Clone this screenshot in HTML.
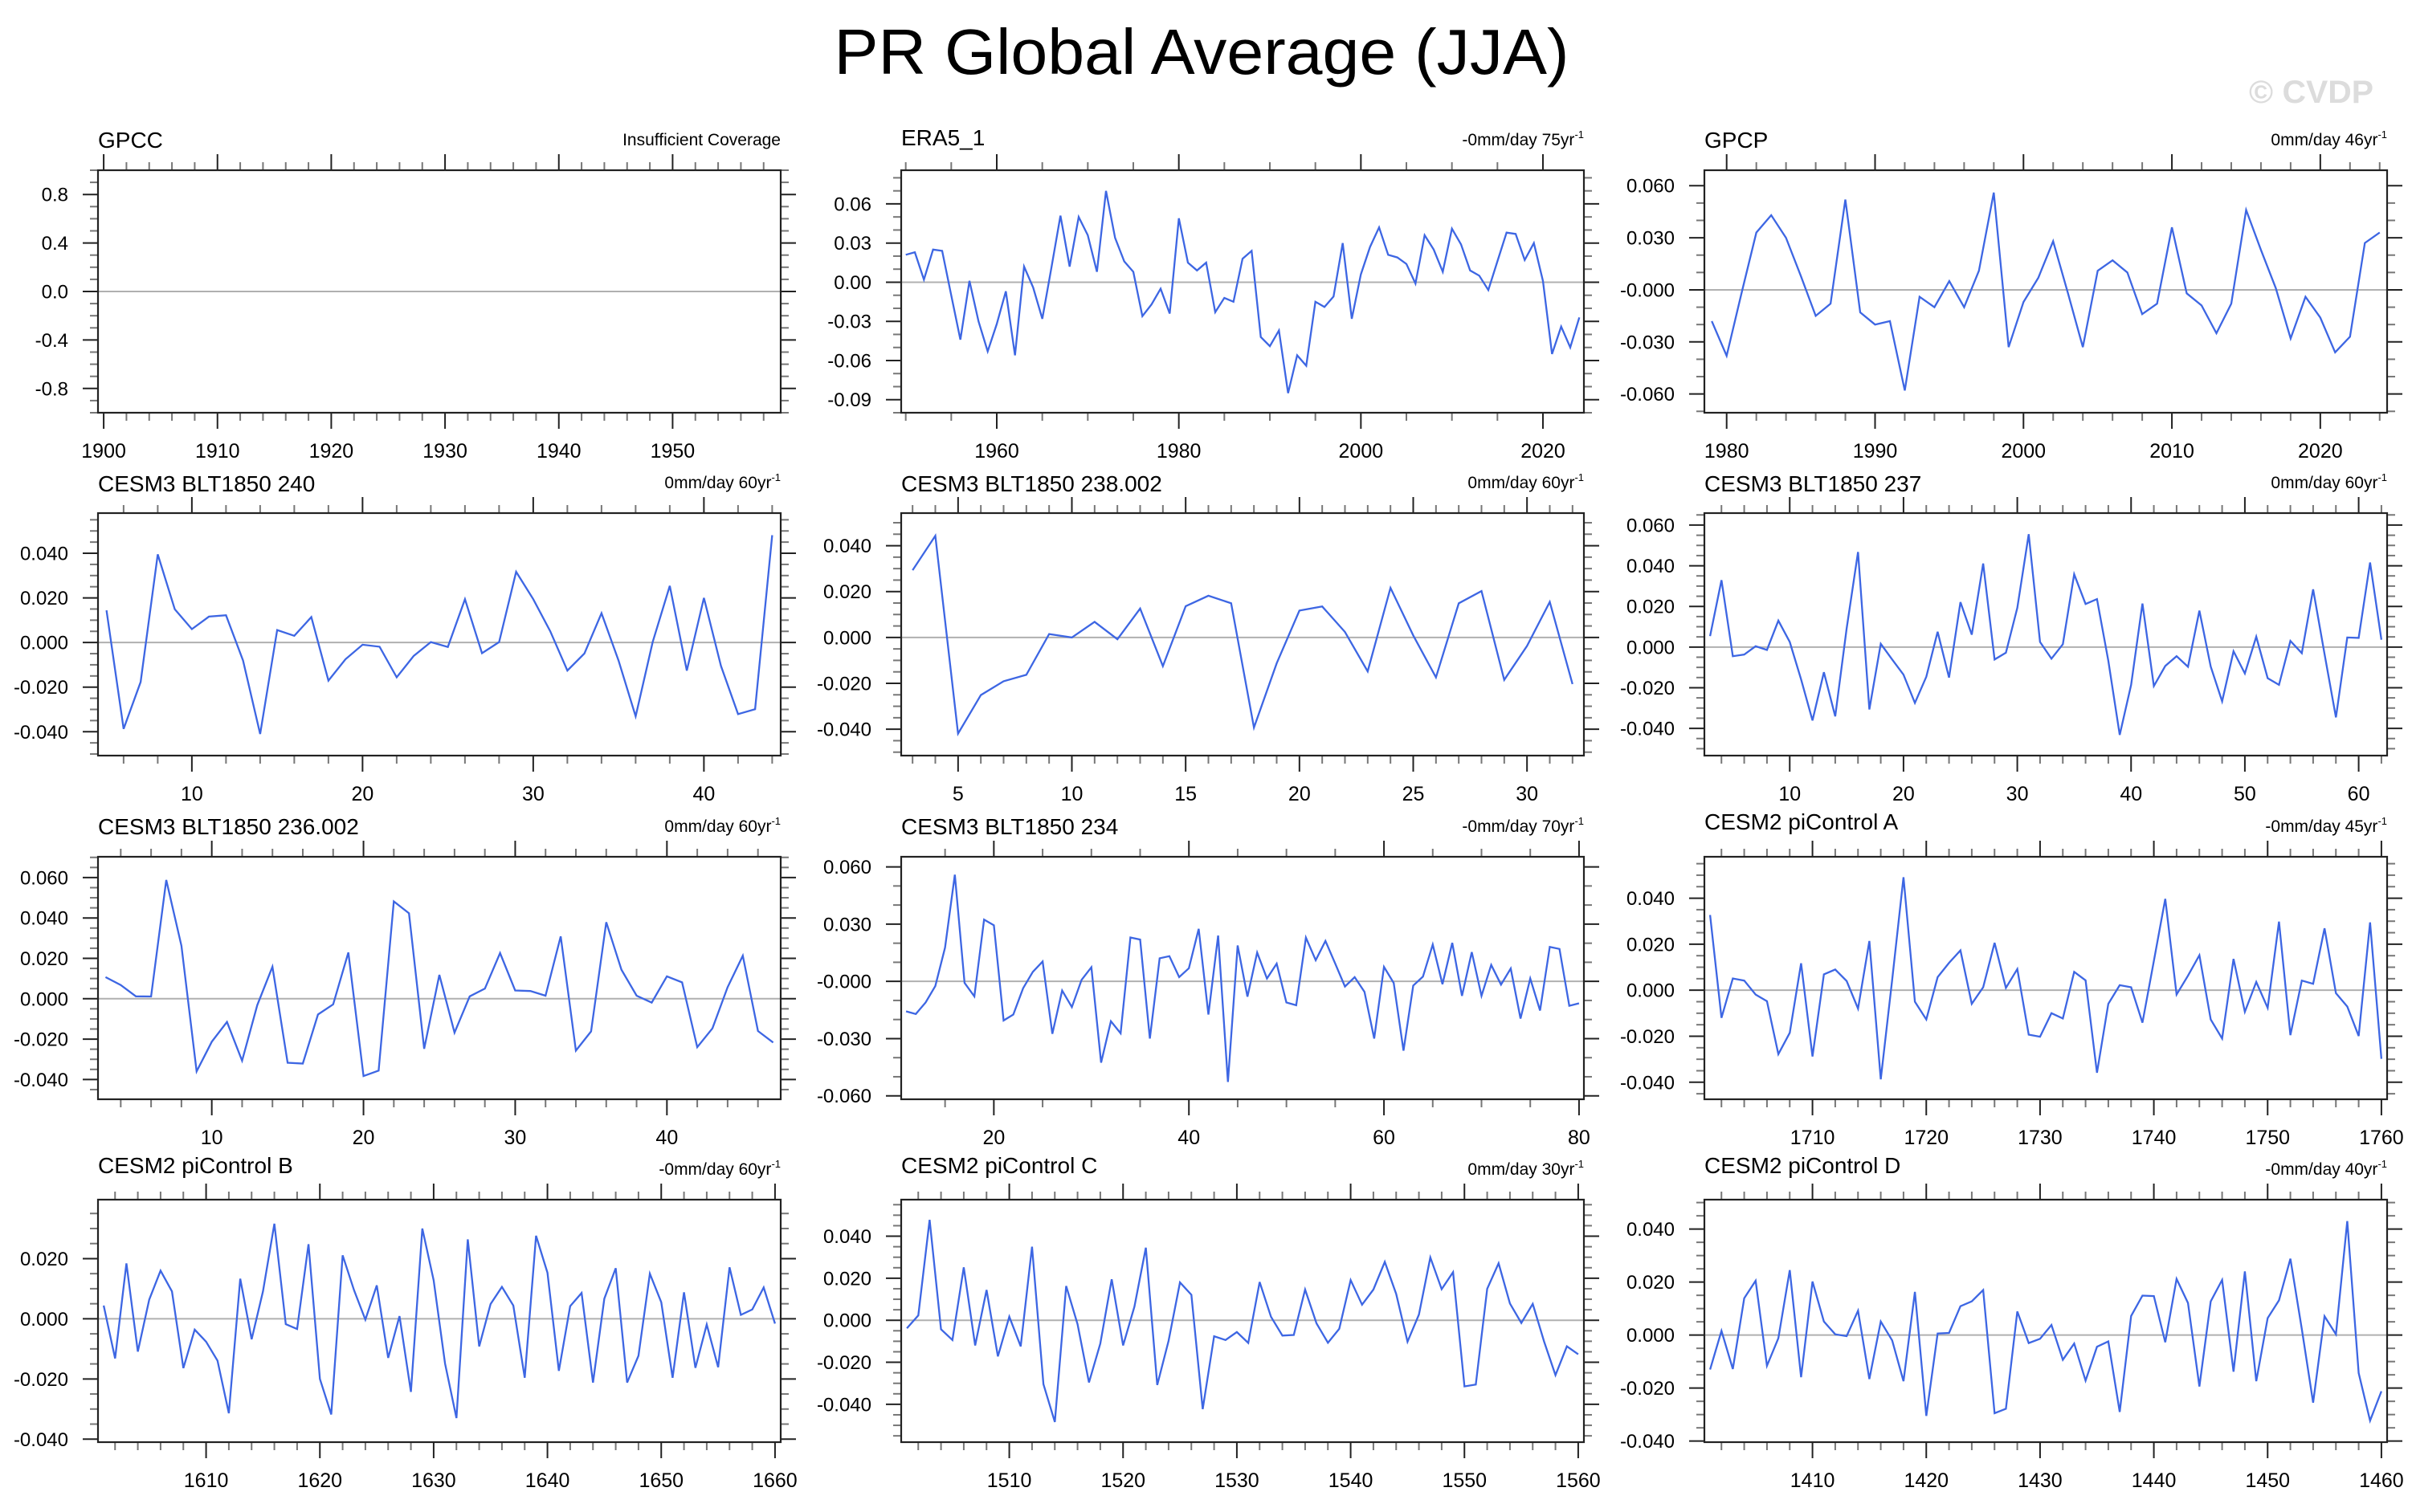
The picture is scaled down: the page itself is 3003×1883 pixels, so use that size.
<!DOCTYPE html>
<html><head><meta charset="utf-8"><title>PR Global Average (JJA)</title>
<style>
html,body{margin:0;padding:0;background:#fff;}
svg{display:block;font-family:"Liberation Sans",Arial,sans-serif;}
</style></head>
<body>
<svg id="fig" width="3003" height="1883" viewBox="0 0 3003 1883" xmlns="http://www.w3.org/2000/svg">
<rect width="3003" height="1883" fill="#fff"/>
<text x="1496" y="92" font-size="80" text-anchor="middle" textLength="915" lengthAdjust="spacingAndGlyphs" fill="#000">PR Global Average (JJA)</text>
<text x="2955" y="128" font-size="40" font-weight="bold" text-anchor="end" textLength="155" lengthAdjust="spacingAndGlyphs" fill="#dcdcdc">© CVDP</text>
</svg>
<script>
// ---------- data ----------
const gpccVals = [];
const era5Start = 1950;
const era5Vals = [0.021,0.023,0.002,0.025,0.024,-0.010,-0.044,0.001,-0.030,-0.053,-0.032,-0.007,-0.056,0.012,-0.004,-0.028,0.011,0.051,0.012,0.050,0.036,0.008,0.070,0.034,0.016,0.008,-0.026,-0.017,-0.005,-0.024,0.049,0.015,0.009,0.015,-0.023,-0.012,-0.015,0.018,0.024,-0.042,-0.049,-0.037,-0.085,-0.056,-0.064,-0.015,-0.019,-0.011,0.030,-0.028,0.006,0.027,0.042,0.021,0.019,0.014,-0.001,0.036,0.025,0.008,0.041,0.029,0.009,0.005,-0.006,0.016,0.038,0.037,0.017,0.030,0.001,-0.055,-0.034,-0.050,-0.027];
const gpcpStart = 1979;
const gpcpVals = [-0.018,-0.038,-0.002,0.033,0.043,0.030,0.008,-0.015,-0.008,0.052,-0.013,-0.020,-0.018,-0.058,-0.004,-0.010,0.005,-0.010,0.011,0.056,-0.033,-0.007,0.007,0.028,-0.002,-0.033,0.011,0.017,0.010,-0.014,-0.008,0.036,-0.002,-0.009,-0.025,-0.008,0.046,0.023,0.001,-0.028,-0.004,-0.016,-0.036,-0.027,0.027,0.033];
const c240Start = 5;
const c240Vals = [0.0144,-0.0387,-0.0177,0.0395,0.0149,0.0060,0.0116,0.0122,-0.0081,-0.0410,0.0056,0.0030,0.0114,-0.0171,-0.0075,-0.0010,-0.0019,-0.0156,-0.0060,0.0002,-0.0020,0.0194,-0.0048,0.0002,0.0317,0.0194,0.0050,-0.0126,-0.0049,0.0131,-0.0081,-0.0331,0.0002,0.0254,-0.0126,0.0200,-0.0105,-0.0321,-0.0299,0.0481];
const c238Start = 3;
const c238Vals = [0.0293,0.0443,-0.0419,-0.0251,-0.0191,-0.0163,0.0015,0.0000,0.0068,-0.0008,0.0126,-0.0125,0.0136,0.0182,0.0149,-0.0393,-0.0113,0.0117,0.0135,0.0024,-0.0148,0.0216,0.0009,-0.0174,0.0149,0.0202,-0.0185,-0.0037,0.0155,-0.0203];
const c237Start = 3;
const c237Vals = [0.0054,0.0329,-0.0045,-0.0037,0.0004,-0.0014,0.0130,0.0025,-0.0159,-0.0361,-0.0124,-0.0341,0.0091,0.0468,-0.0307,0.0016,-0.0061,-0.0136,-0.0275,-0.0146,0.0075,-0.0150,0.0221,0.0061,0.0411,-0.0061,-0.0028,0.0193,0.0555,0.0025,-0.0057,0.0014,0.0358,0.0212,0.0236,-0.0067,-0.0432,-0.0186,0.0214,-0.0192,-0.0093,-0.0045,-0.0097,0.0179,-0.0096,-0.0267,-0.0021,-0.0130,0.0051,-0.0153,-0.0186,0.0030,-0.0030,0.0284,-0.0034,-0.0346,0.0047,0.0045,0.0416,0.0036];
const c236Start = 3;
const c236Vals = [0.0107,0.0068,0.0012,0.0011,0.0588,0.0262,-0.0360,-0.0213,-0.0115,-0.0307,-0.0032,0.0158,-0.0317,-0.0321,-0.0078,-0.0028,0.0229,-0.0383,-0.0356,0.0482,0.0423,-0.0248,0.0118,-0.0168,0.0012,0.0050,0.0226,0.0041,0.0038,0.0015,0.0309,-0.0257,-0.0162,0.0379,0.0144,0.0015,-0.0019,0.0111,0.0081,-0.0240,-0.0147,0.0057,0.0213,-0.0160,-0.0217];
const c234Start = 11;
const c234Vals = [-0.0157,-0.0171,-0.0111,-0.0024,0.0177,0.0559,-0.0008,-0.0079,0.0324,0.0294,-0.0205,-0.0174,-0.0036,0.0050,0.0104,-0.0275,-0.0048,-0.0135,0.0008,0.0074,-0.0426,-0.0209,-0.0272,0.0230,0.0219,-0.0300,0.0121,0.0132,0.0022,0.0069,0.0275,-0.0174,0.0240,-0.0527,0.0188,-0.0080,0.0151,0.0015,0.0093,-0.0111,-0.0125,0.0229,0.0111,0.0212,0.0093,-0.0027,0.0022,-0.0055,-0.0300,0.0076,-0.0008,-0.0363,-0.0022,0.0025,0.0193,-0.0015,0.0202,-0.0076,0.0153,-0.0076,0.0086,-0.0017,0.0067,-0.0195,0.0015,-0.0153,0.0181,0.0170,-0.0128,-0.0115];
const picAStart = 1701;
const picAVals = [0.0327,-0.0120,0.0051,0.0042,-0.0019,-0.0048,-0.0278,-0.0185,0.0117,-0.0288,0.0069,0.0090,0.0040,-0.0080,0.0214,-0.0387,0.0045,0.0491,-0.0050,-0.0127,0.0057,0.0119,0.0173,-0.0059,0.0013,0.0206,0.0010,0.0092,-0.0193,-0.0202,-0.0100,-0.0123,0.0080,0.0043,-0.0359,-0.0059,0.0022,0.0013,-0.0141,0.0127,0.0397,-0.0019,0.0063,0.0152,-0.0127,-0.0210,0.0136,-0.0094,0.0036,-0.0077,0.0298,-0.0195,0.0042,0.0028,0.0269,-0.0013,-0.0071,-0.0199,0.0295,-0.0298];
const picBStart = 1601;
const picBVals = [0.0044,-0.0132,0.0184,-0.0109,0.0064,0.0160,0.0091,-0.0164,-0.0036,-0.0076,-0.0139,-0.0314,0.0133,-0.0068,0.0091,0.0316,-0.0018,-0.0034,0.0248,-0.0200,-0.0318,0.0211,0.0095,-0.0003,0.0111,-0.0130,0.0009,-0.0243,0.0300,0.0128,-0.0149,-0.0330,0.0264,-0.0092,0.0049,0.0106,0.0044,-0.0196,0.0276,0.0153,-0.0173,0.0042,0.0086,-0.0212,0.0067,0.0168,-0.0212,-0.0123,0.0150,0.0055,-0.0196,0.0088,-0.0163,-0.0019,-0.0161,0.0171,0.0013,0.0031,0.0104,-0.0016];
const picCStart = 1501;
const picCVals = [-0.0038,0.0023,0.0478,-0.0043,-0.0094,0.0252,-0.0120,0.0144,-0.0172,0.0017,-0.0124,0.0350,-0.0304,-0.0484,0.0163,-0.0019,-0.0296,-0.0111,0.0195,-0.0120,0.0065,0.0345,-0.0308,-0.0098,0.0180,0.0121,-0.0423,-0.0076,-0.0094,-0.0056,-0.0108,0.0182,0.0017,-0.0073,-0.0070,0.0146,-0.0015,-0.0107,-0.0041,0.0191,0.0074,0.0146,0.0278,0.0125,-0.0102,0.0027,0.0299,0.0148,0.0229,-0.0315,-0.0306,0.0150,0.0271,0.0080,-0.0013,0.0078,-0.0101,-0.0261,-0.0124,-0.0162];
const picDStart = 1401;
const picDVals = [-0.0130,0.0016,-0.0128,0.0139,0.0205,-0.0116,-0.0012,0.0245,-0.0159,0.0202,0.0051,0.0003,-0.0004,0.0092,-0.0166,0.0051,-0.0020,-0.0174,0.0163,-0.0305,0.0006,0.0008,0.0109,0.0127,0.0170,-0.0295,-0.0278,0.0089,-0.0030,-0.0014,0.0038,-0.0093,-0.0032,-0.0172,-0.0044,-0.0024,-0.0290,0.0072,0.0149,0.0147,-0.0027,0.0212,0.0121,-0.0194,0.0127,0.0208,-0.0138,0.0240,-0.0174,0.0064,0.0131,0.0288,0.0023,-0.0255,0.0071,0.0003,0.0430,-0.0143,-0.0323,-0.0212];

// tick values and labels
const gpccXTicks = [1900,1910,1920,1930,1940,1950];
const gpccYTicks = [0.8,0.4,0,-0.4,-0.8];
const gpccYLabels = ["0.8","0.4","0.0","-0.4","-0.8"];
const era5XTicks = [1960,1980,2000,2020];
const era5YTicks = [0.06,0.03,0,-0.03,-0.06,-0.09];
const era5YLabels = ["0.06","0.03","0.00","-0.03","-0.06","-0.09"];
const gpcpXTicks = [1980,1990,2000,2010,2020];
const gpcpYTicks = [0.06,0.03,0,-0.03,-0.06];
const gpcpYLabels = ["0.060","0.030","-0.000","-0.030","-0.060"];
const c240XTicks = [10,20,30,40];
const c240YTicks = [0.04,0.02,0,-0.02,-0.04];
const c240YLabels = ["0.040","0.020","0.000","-0.020","-0.040"];
const c238XTicks = [5,10,15,20,25,30];
const c238YTicks = [0.04,0.02,0,-0.02,-0.04];
const c238YLabels = ["0.040","0.020","0.000","-0.020","-0.040"];
const c237XTicks = [10,20,30,40,50,60];
const c237YTicks = [0.06,0.04,0.02,0,-0.02,-0.04];
const c237YLabels = ["0.060","0.040","0.020","0.000","-0.020","-0.040"];
const c236XTicks = [10,20,30,40];
const c236YTicks = [0.06,0.04,0.02,0,-0.02,-0.04];
const c236YLabels = ["0.060","0.040","0.020","0.000","-0.020","-0.040"];
const c234XTicks = [20,40,60,80];
const c234YTicks = [0.06,0.03,0,-0.03,-0.06];
const c234YLabels = ["0.060","0.030","-0.000","-0.030","-0.060"];
const picAXTicks = [1710,1720,1730,1740,1750,1760];
const picAYTicks = [0.04,0.02,0,-0.02,-0.04];
const picAYLabels = ["0.040","0.020","0.000","-0.020","-0.040"];
const picBXTicks = [1610,1620,1630,1640,1650,1660];
const picBYTicks = [0.02,0,-0.02,-0.04];
const picBYLabels = ["0.020","0.000","-0.020","-0.040"];
const picCXTicks = [1510,1520,1530,1540,1550,1560];
const picCYTicks = [0.04,0.02,0,-0.02,-0.04];
const picCYLabels = ["0.040","0.020","0.000","-0.020","-0.040"];
const picDXTicks = [1410,1420,1430,1440,1450,1460];
const picDYTicks = [0.04,0.02,0,-0.02,-0.04];
const picDYLabels = ["0.040","0.020","0.000","-0.020","-0.040"];

// ---------- layout ----------
const colX = [122,1122,2122], rowY = [212,639,1067,1494], BW = 850, BH = 302;
const panels = [
 {name:"gpcc",title:"GPCC",sub:"Insufficient Coverage",sup:"",c:0,r:0,x0:1900,vals:gpccVals,xr:[1899.5,1959.5],yr:[-1,1],xt:gpccXTicks,xm:2,yt:gpccYTicks,yl:gpccYLabels,ym:0.1,toff:28},
 {name:"era5",title:"ERA5_1",sub:"-0mm/day 75yr",sup:"-1",c:1,r:0,x0:era5Start,vals:era5Vals,xr:[1949.5,2024.5],yr:[-0.1,0.0858],xt:era5XTicks,xm:5,yt:era5YTicks,yl:era5YLabels,ym:0.01,toff:31},
 {name:"gpcp",title:"GPCP",sub:"0mm/day 46yr",sup:"-1",c:2,r:0,x0:gpcpStart,vals:gpcpVals,xr:[1978.5,2024.5],yr:[-0.0708,0.0689],xt:gpcpXTicks,xm:2,yt:gpcpYTicks,yl:gpcpYLabels,ym:0.01,toff:28},
 {name:"cesm3-240",title:"CESM3 BLT1850 240",sub:"0mm/day 60yr",sup:"-1",c:0,r:1,x0:c240Start,vals:c240Vals,xr:[4.5,44.5],yr:[-0.0507,0.058],xt:c240XTicks,xm:2,yt:c240YTicks,yl:c240YLabels,ym:0.005,toff:27},
 {name:"cesm3-238",title:"CESM3 BLT1850 238.002",sub:"0mm/day 60yr",sup:"-1",c:1,r:1,x0:c238Start,vals:c238Vals,xr:[2.5,32.5],yr:[-0.0515,0.0542],xt:c238XTicks,xm:1,yt:c238YTicks,yl:c238YLabels,ym:0.005,toff:27},
 {name:"cesm3-237",title:"CESM3 BLT1850 237",sub:"0mm/day 60yr",sup:"-1",c:2,r:1,x0:c237Start,vals:c237Vals,xr:[2.5,62.5],yr:[-0.0534,0.0659],xt:c237XTicks,xm:2,yt:c237YTicks,yl:c237YLabels,ym:0.005,toff:27},
 {name:"cesm3-236",title:"CESM3 BLT1850 236.002",sub:"0mm/day 60yr",sup:"-1",c:0,r:2,x0:c236Start,vals:c236Vals,xr:[2.5,47.5],yr:[-0.0498,0.0703],xt:c236XTicks,xm:2,yt:c236YTicks,yl:c236YLabels,ym:0.005,toff:28},
 {name:"cesm3-234",title:"CESM3 BLT1850 234",sub:"-0mm/day 70yr",sup:"-1",c:1,r:2,x0:c234Start,vals:c234Vals,xr:[10.5,80.5],yr:[-0.0618,0.0653],xt:c234XTicks,xm:5,yt:c234YTicks,yl:c234YLabels,ym:0.01,toff:28},
 {name:"picontrol-a",title:"CESM2 piControl A",sub:"-0mm/day 45yr",sup:"-1",c:2,r:2,x0:picAStart,vals:picAVals,xr:[1700.5,1760.5],yr:[-0.0474,0.058],xt:picAXTicks,xm:2,yt:picAYTicks,yl:picAYLabels,ym:0.005,toff:34},
 {name:"picontrol-b",title:"CESM2 piControl B",sub:"-0mm/day 60yr",sup:"-1",c:0,r:3,x0:picBStart,vals:picBVals,xr:[1600.5,1660.5],yr:[-0.041,0.0396],xt:picBXTicks,xm:2,yt:picBYTicks,yl:picBYLabels,ym:0.005,toff:33},
 {name:"picontrol-c",title:"CESM2 piControl C",sub:"0mm/day 30yr",sup:"-1",c:1,r:3,x0:picCStart,vals:picCVals,xr:[1500.5,1560.5],yr:[-0.058,0.0574],xt:picCXTicks,xm:2,yt:picCYTicks,yl:picCYLabels,ym:0.005,toff:33},
 {name:"picontrol-d",title:"CESM2 piControl D",sub:"-0mm/day 40yr",sup:"-1",c:2,r:3,x0:picDStart,vals:picDVals,xr:[1400.5,1460.5],yr:[-0.0404,0.0511],xt:picDXTicks,xm:2,yt:picDYTicks,yl:picDYLabels,ym:0.005,toff:33}
];

const NS = "http://www.w3.org/2000/svg";
const fig = document.getElementById("fig");
function mk(tag, attrs, parent){
  const e = document.createElementNS(NS, tag);
  for (const k in attrs) e.setAttribute(k, attrs[k]);
  parent.appendChild(e);
  return e;
}
function ln(g, x1, y1, x2, y2, col, w){
  const l = mk("line", {x1:x1, y1:y1, x2:x2, y2:y2, stroke:col, "stroke-width":w}, g);
  
  
  return l;
}

panels.forEach(p => {
  const bx = colX[p.c], by = rowY[p.r];
  const sx = v => bx + (v - p.xr[0]) / (p.xr[1] - p.xr[0]) * BW;
  const sy = v => by + (p.yr[1] - v) / (p.yr[1] - p.yr[0]) * BH;
  const g = mk("g", {}, fig);
  
  

  const t = mk("text", {x: bx, y: by - p.toff, "font-size": 28, fill: "#000"}, g);
  t.textContent = p.title;
  
  
  const s = mk("text", {x: bx + BW, y: by - 31, "font-size": 21, fill: "#000", "text-anchor": "end"}, g);
  s.textContent = p.sub;
  if (p.sup) {
    const ts = mk("tspan", {"font-size": 13, dy: -9}, s);
    ts.textContent = p.sup;
  }
  
  

  const z = mk("line", {x1: bx, x2: bx + BW, y1: sy(0), y2: sy(0), stroke: "#b0b0b0", "stroke-width": 2}, g);
  
  

  const xs = Math.ceil(p.xr[0] / p.xm) * p.xm;
  for (let v = xs; v <= p.xr[1] + 1e-9; v += p.xm) {
    if (p.xt.some(m => Math.abs(m - v) < 1e-6)) continue;
    const X = sx(v);
    ln(g, X, by + BH, X, by + BH + 10, "#777", 2);
    ln(g, X, by, X, by - 10, "#777", 2);
  }
  p.xt.forEach(v => {
    const X = sx(v);
    ln(g, X, by + BH, X, by + BH + 20, "#222", 2);
    ln(g, X, by, X, by - 20, "#222", 2);
    const l = mk("text", {x: X, y: by + BH + 56, "font-size": 25, "text-anchor": "middle", fill: "#000"}, g);
    l.textContent = String(v);
    
    
  });
  const ys = Math.ceil(p.yr[0] / p.ym - 1e-6) * p.ym;
  for (let v = ys; v <= p.yr[1] + 1e-9; v += p.ym) {
    if (p.yt.some(m => Math.abs(m - v) < p.ym * 0.01)) continue;
    const Y = sy(v);
    ln(g, bx, Y, bx - 10, Y, "#777", 2);
    ln(g, bx + BW, Y, bx + BW + 10, Y, "#777", 2);
  }
  p.yt.forEach((v, i) => {
    const Y = sy(v);
    ln(g, bx, Y, bx - 19, Y, "#222", 2);
    ln(g, bx + BW, Y, bx + BW + 19, Y, "#222", 2);
    const l = mk("text", {x: bx - 37, y: Y + 8.5, "font-size": 24, "text-anchor": "end", fill: "#000"}, g);
    l.textContent = p.yl[i];
    
    
  });

  if (p.vals.length) {
    const pts = p.vals.map((v, i) => sx(p.x0 + i).toFixed(1) + "," + sy(v).toFixed(1)).join(" ");
    const pl = mk("polyline", {points: pts, fill: "none", stroke: "#3d66e3", "stroke-width": 2.3, "stroke-linejoin": "miter"}, g);
    
    
  }

  const fr = mk("rect", {x: bx, y: by, width: BW, height: BH, fill: "none", stroke: "#222", "stroke-width": 2.2}, g);
  
  
});
</script>
</body></html>
